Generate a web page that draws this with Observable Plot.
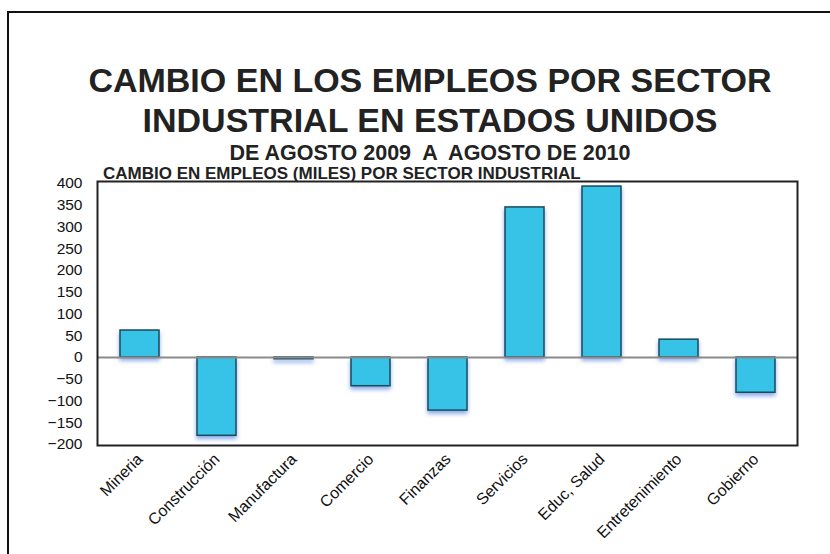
<!DOCTYPE html>
<html>
<head>
<meta charset="utf-8">
<script src="https://cdn.jsdelivr.net/npm/d3@7"></script>
<script src="https://cdn.jsdelivr.net/npm/@observablehq/plot@0.6"></script>
<style>
  html, body { margin: 0; padding: 0; background: #fff; overflow: hidden; }
  #wrap { position: relative; width: 830px; height: 554px; overflow: hidden; font-family: "Liberation Sans", Arial, sans-serif; }
  #border { position: absolute; left: 7px; top: 11px; width: 900px; height: 700px; border: 2px solid #111; box-sizing: border-box; }
  .t { position: absolute; left: 0; width: 860px; text-align: center; font-weight: bold; color: #222; white-space: pre; }
  #t1 { top: 61px; font-size: 34px; line-height: 39.5px; }
  #t3 { top: 144px; font-size: 21.5px; line-height: 18px; }
  #sub { position: absolute; left: 103px; top: 168px; font-size: 17px; line-height: 12px; font-weight: bold; color: #222; white-space: pre; }
  #chart { position: absolute; left: 0; top: 0; }
  #chart svg { background: transparent; }
  #chart g[aria-label="bar"] rect { filter: drop-shadow(0px 3px 2px rgba(40, 100, 220, 0.55)); }
</style>
</head>
<body>
<div id="wrap">
  <div id="border"></div>
  <div id="chart"></div>
  <div class="t" id="t1">CAMBIO EN LOS EMPLEOS POR SECTOR
INDUSTRIAL EN ESTADOS UNIDOS</div>
  <div class="t" id="t3">DE AGOSTO 2009  A  AGOSTO DE 2010</div>
  <div id="sub">CAMBIO EN EMPLEOS (MILES) POR SECTOR INDUSTRIAL</div>
</div>
<script>
const sectors = ["Mineria", "Construcción", "Manufactura", "Comercio", "Finanzas", "Servicios", "Educ, Salud", "Entretenimiento", "Gobierno"];
const changes = [62, -180, -4, -66, -122, 345, 393, 41, -81];
const yTicks = [-200, -150, -100, -50, 0, 50, 100, 150, 200, 250, 300, 350, 400];

const data = sectors.map((s, i) => ({sector: s, value: changes[i]}));

const chart = Plot.plot({
  width: 830,
  height: 554,
  marginLeft: 97,
  marginRight: 33,
  marginTop: 183,
  marginBottom: 110,
  style: {background: "transparent", fontFamily: "'Liberation Sans', Arial, sans-serif", color: "#111"},
  x: {domain: sectors, paddingInner: 0.5, paddingOuter: 0.25, label: null},
  y: {domain: [-200, 400], label: null},
  marks: [
    Plot.barY(data, {x: "sector", y: "value", fill: "#37C3E8", stroke: "#1d4a58", strokeWidth: 1.5}),
    Plot.ruleY([0], {stroke: "#8a8a8a", strokeWidth: 2}),
    Plot.frame({stroke: "#222", strokeWidth: 2, insetTop: -2, insetBottom: -1}),
    Plot.axisY(yTicks, {tickSize: 0, tickPadding: 15, fontSize: 15.5, label: null}),
    Plot.axisX({tickSize: 0, tickPadding: 12, tickRotate: -45, fontSize: 16, label: null})
  ]
});
document.getElementById("chart").appendChild(chart);
</script>
</body>
</html>
